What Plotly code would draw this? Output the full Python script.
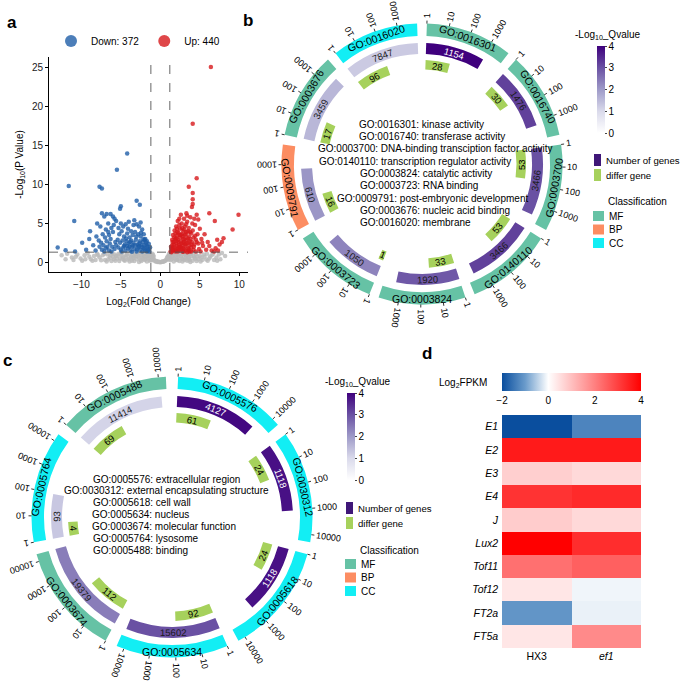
import math
import plotly.graph_objects as go

W, H = 685, 681
FONT = "Liberation Sans, Arial, sans-serif"

# ---------------- panel a : volcano ----------------
down_count = 372
up_count = 440
fc_cut = 1.2
p_cut = 1.3

down_pts = [(-11.6, 9.8), (-5.5, 11.9), (-4.2, 14.0), (-7.7, 9.7), (-7.4, 9.5), (-3.0, 7.9), (-2.6, 7.4),
            (-5.0, 7.2), (-5.1, 6.9), (-10.9, 5.3), (-13.0, 1.9), (-12.0, 1.55), (-10.8, 1.4), (-9.9, 2.5),
            (-9.4, 1.6), (-9.0, 3.0), (-8.9, 4.0), (-8.5, 2.2), (-8.2, 1.5),
            (-7.4, 6.3), (-6.8, 6.2), (-6.3, 6.2), (-6.0, 5.9), (-7.1, 5.9), (-5.8, 5.6), (-5.6, 5.3),
            (-6.6, 5.0), (-7.6, 4.6), (-8.0, 5.0), (-6.9, 4.2), (-6.2, 4.4), (-5.9, 4.8), (-7.3, 3.6),
            (-7.0, 3.2), (-6.5, 3.5), (-6.0, 3.9), (-7.8, 2.8), (-7.5, 2.5), (-7.2, 2.2), (-6.8, 2.7),
            (-6.4, 2.4), (-6.1, 2.0), (-6.9, 1.8), (-7.4, 1.6), (-6.5, 1.5), (-5.8, 1.7), (-5.7, 2.6),
            (-6.3, 3.0), (-7.1, 1.4), (-6.7, 2.0), (-8.1, 3.3),
            (-5.0, 5.0), (-4.7, 4.6), (-4.4, 4.9), (-4.1, 4.3), (-3.4, 4.8), (-3.0, 4.9), (-2.7, 4.6),
            (-2.3, 4.2), (-3.7, 4.0), (-4.9, 4.0), (-5.2, 3.6), (-4.6, 3.3), (-4.2, 3.7), (-3.9, 3.2),
            (-3.5, 3.5), (-3.2, 3.9), (-2.8, 3.6), (-2.5, 3.3), (-2.1, 3.6), (-1.9, 3.0), (-5.4, 2.9),
            (-5.1, 2.5), (-4.8, 2.8), (-4.5, 2.3), (-4.3, 2.7), (-4.0, 2.4), (-3.7, 2.8), (-3.4, 2.5),
            (-3.1, 2.9), (-2.9, 2.3), (-2.6, 2.7), (-2.4, 2.2), (-2.2, 2.6), (-2.0, 2.2), (-1.8, 2.5),
            (-1.6, 2.0), (-1.5, 1.7), (-5.3, 1.9), (-5.0, 1.6), (-4.7, 1.9), (-4.4, 1.5), (-4.1, 1.8),
            (-3.8, 1.5), (-3.6, 2.0), (-3.3, 1.7), (-3.0, 1.4), (-2.8, 1.9), (-2.5, 1.6), (-2.3, 1.4),
            (-2.1, 1.8), (-1.9, 1.5), (-1.7, 1.4), (-1.4, 1.4), (-1.3, 1.9), (-3.5, 2.2), (-2.7, 2.1),
            (-4.6, 2.1), (-3.9, 2.0), (-2.0, 2.9), (-1.7, 2.7),
            (-4.9, 1.4), (-4.2, 2.1), (-3.6, 1.35), (-3.2, 2.2), (-2.95, 1.65), (-2.65, 2.45), (-2.35, 1.95),
            (-2.15, 2.95), (-1.95, 1.75), (-1.75, 2.2), (-1.55, 1.5), (-1.45, 2.35), (-3.85, 2.6),
            (-4.35, 3.05), (-3.05, 3.3), (-2.45, 3.8), (-5.6, 2.2), (-6.2, 1.4), (-7.7, 2.0), (-6.6, 3.9),
            (-5.3, 4.4), (-4.0, 5.2), (-3.3, 5.4), (-2.5, 5.1)]

up_pts = [(6.4, 25.1), (4.1, 17.8), (4.6, 10.8), (3.6, 9.7), (4.1, 8.9), (4.1, 8.1), (4.1, 7.5), (4.0, 7.1),
          (9.9, 6.1), (6.2, 6.3), (6.9, 5.3), (9.15, 4.2), (8.0, 3.1), (7.2, 2.9), (6.0, 2.6), (5.4, 2.1),
          (5.2, 3.0), (5.0, 4.3), (4.8, 5.5), (5.8, 1.6), (6.5, 1.5), (7.0, 1.8), (7.5, 2.3), (7.8, 2.6),
          (6.8, 1.4), (4.6, 6.1), (3.3, 6.3), (2.6, 6.1), (3.0, 5.6),
          (1.3, 1.4), (1.4, 1.8), (1.5, 2.2), (1.6, 1.5), (1.7, 2.6), (1.8, 1.9), (1.9, 3.0), (2.0, 1.5),
          (2.0, 2.4), (2.1, 3.4), (2.2, 1.8), (2.2, 2.9), (2.3, 3.8), (2.4, 1.5), (2.4, 2.3), (2.5, 3.2),
          (2.5, 4.3), (2.6, 1.9), (2.6, 2.7), (2.7, 3.6), (2.7, 5.0), (2.8, 1.4), (2.8, 2.2), (2.9, 3.0),
          (2.9, 4.0), (3.0, 1.7), (3.0, 2.6), (3.1, 3.5), (3.1, 4.6), (3.2, 1.5), (3.2, 2.1), (3.3, 2.9),
          (3.3, 3.9), (3.4, 5.2), (3.5, 1.8), (3.5, 2.5), (3.6, 3.3), (3.6, 4.4), (3.7, 1.4), (3.7, 2.2),
          (3.8, 3.0), (3.8, 5.8), (3.9, 1.9), (3.9, 3.7), (4.0, 2.6), (4.1, 4.1), (4.2, 1.6), (4.2, 3.2),
          (4.3, 2.3), (4.4, 4.8), (4.5, 1.4), (4.5, 2.9), (1.5, 2.9), (1.6, 3.5), (1.8, 4.1), (2.0, 4.6),
          (2.2, 5.3), (2.4, 5.6), (1.4, 1.3), (1.9, 1.4), (2.3, 1.6), (2.7, 1.7), (3.4, 1.3), (3.9, 1.4),
          (2.1, 2.1), (2.5, 2.0), (2.9, 2.5), (3.3, 2.4), (3.7, 2.7), (1.7, 2.3), (2.3, 2.6), (2.8, 3.3),
          (3.2, 3.6), (1.6, 1.9), (2.0, 3.1), (2.6, 3.5), (3.0, 4.2), (3.5, 4.0), (2.4, 4.8), (1.9, 3.7),
          (2.1, 4.3), (3.4, 6.0), (4.3, 5.6), (4.7, 3.6), (4.8, 2.4), (4.9, 1.7), (5.1, 1.4),
          (1.35, 2.0), (1.55, 2.6), (1.75, 3.2), (1.85, 1.6), (2.05, 2.7), (2.15, 3.9), (2.35, 2.0),
          (2.45, 3.5), (2.65, 2.4), (2.75, 4.4), (2.85, 1.8), (3.05, 3.0), (3.15, 2.3), (3.25, 4.9),
          (3.45, 3.1), (3.55, 1.5), (3.75, 3.9), (3.95, 2.3), (4.05, 5.0), (4.25, 2.0), (4.4, 3.4),
          (4.6, 2.6), (1.5, 1.6), (2.2, 1.4), (2.9, 1.35), (3.6, 1.7), (5.3, 2.5), (5.6, 3.6), (6.2, 2.1),
          (7.3, 1.5)]

ns_pts = [(-12.5, 0.9), (-11.8, 1.1), (-11.2, 0.6), (-10.5, 1.0), (-10.1, 0.5), (-9.6, 0.9), (-9.2, 1.2),
          (-8.8, 0.4), (-8.4, 0.8), (-8.0, 1.1), (-7.7, 0.6), (-7.3, 0.9), (-7.0, 0.3), (-6.7, 1.0),
          (-6.4, 0.6), (-6.1, 1.2), (-5.9, 0.4), (-5.6, 0.8), (-5.3, 1.1), (-5.1, 0.5), (-4.9, 0.9),
          (-4.6, 0.3), (-4.4, 0.7), (-4.2, 1.1), (-4.0, 0.5), (-3.8, 0.9), (-3.6, 0.2), (-3.4, 0.6),
          (-3.2, 1.0), (-3.0, 0.4), (-2.8, 0.8), (-2.6, 1.2), (-2.5, 0.3), (-2.3, 0.7), (-2.1, 1.0),
          (-1.9, 0.4), (-1.8, 0.8), (-1.6, 1.1), (-1.5, 0.5), (-1.3, 0.9), (-1.2, 0.3), (-1.1, 0.7),
          (-1.0, 1.1), (-0.9, 0.5), (-0.8, 0.3), (-0.7, 0.2), (-0.6, 0.1), (-0.5, 0.15), (-0.4, 0.05),
          (-0.3, 0.1), (-0.2, 0.05), (-0.1, 0.02), (0.0, 0.0), (0.1, 0.03), (0.2, 0.06), (0.3, 0.1),
          (0.4, 0.08), (0.5, 0.15), (0.6, 0.2), (0.7, 0.25), (0.8, 0.35), (0.9, 0.5), (1.0, 0.8),
          (1.1, 1.1), (1.2, 0.6), (1.3, 1.0), (1.4, 0.4), (1.5, 0.8), (1.7, 1.2), (1.8, 0.5), (2.0, 0.9),
          (2.2, 0.3), (2.3, 0.7), (2.5, 1.1), (2.7, 0.5), (2.9, 0.9), (3.1, 0.3), (3.3, 0.7), (3.5, 1.1),
          (3.7, 0.4), (3.9, 0.8), (4.1, 0.2), (4.3, 0.6), (4.5, 1.0), (4.8, 0.4), (5.0, 0.8), (5.3, 0.3),
          (5.6, 0.7), (5.9, 1.1), (6.2, 0.5), (6.5, 0.9), (6.8, 0.3), (7.1, 0.6), (7.4, 1.0), (7.8, 1.2),
          (-8.6, 0.2), (-6.8, 0.1), (-5.2, 0.15), (-3.9, 0.1), (-2.7, 0.05), (-1.7, 0.1), (1.7, 0.1),
          (2.8, 0.1), (3.8, 0.05), (5.1, 0.1), (-9.9, 0.2), (-4.8, 1.25), (-3.5, 1.25), (-2.2, 1.25),
          (2.1, 1.25), (3.0, 1.25), (4.0, 1.25), (-0.9, 0.9), (-1.0, 0.6), (0.95, 0.7), (1.05, 0.4),
          (-7.5, 0.25), (-6.2, 0.15), (-4.5, 0.2), (-3.3, 0.15), (-2.4, 0.15), (2.4, 0.15), (3.4, 0.2),
          (4.6, 0.15), (6.0, 0.2), (-11.0, 0.3), (7.2, 0.2), (-5.7, 0.2),
          (-9.0, 0.7), (-8.2, 0.3), (-7.9, 0.9), (-7.1, 1.1), (-6.6, 0.4), (-6.3, 0.9), (-5.8, 1.0),
          (-5.5, 0.5), (-5.0, 1.15), (-4.7, 0.6), (-4.3, 0.95), (-4.1, 0.35), (-3.7, 0.7), (-3.5, 0.45),
          (-3.1, 0.75), (-2.9, 1.1), (-2.7, 0.6), (-2.4, 0.9), (-2.2, 0.5), (-2.0, 0.75), (-1.85, 1.15),
          (-1.65, 0.6), (-1.45, 0.85), (-1.35, 0.2), (-1.15, 1.0), (1.15, 0.85), (1.25, 0.25), (1.45, 1.15),
          (1.6, 0.6), (1.9, 1.0), (2.1, 0.5), (2.35, 1.0), (2.6, 0.75), (2.85, 0.4), (3.05, 1.05),
          (3.2, 0.55), (3.45, 0.9), (3.65, 0.25), (3.85, 1.1), (4.2, 0.85), (4.4, 0.45), (4.7, 0.75),
          (5.2, 0.6), (5.5, 1.0), (5.8, 0.35), (6.3, 0.75), (6.7, 1.1), (-6.0, 0.7), (-5.4, 0.85),
          (-4.8, 0.45), (-3.3, 0.85), (-2.0, 0.3), (2.0, 0.3), (3.6, 0.6), (-0.85, 0.7), (0.85, 0.6),
          (-1.05, 0.25), (-9.5, 0.4), (-10.7, 0.7), (-12.0, 0.4), (8.2, 0.8), (7.6, 0.4)]

# ---------------- panel b : GO circle ----------------
b_terms = ["GO:0016301", "GO:0016740", "GO:0003700", "GO:0140110", "GO:0003824",
           "GO:0003723", "GO:0009791", "GO:0003676", "GO:0016020"]
b_desc = ["kinase activity", "transferase activity", "DNA-binding transciption factor activity",
          "transcription regulator activity", "catalytic activity", "RNA binding",
          "post-embryonic development", "nucleic acid binding", "membrane"]
b_class = ["MF", "MF", "MF", "MF", "MF", "MF", "BP", "MF", "CC"]
b_genes = [1154, 1476, 3466, 3466, 1920, 1050, 610, 3459, 7847]
b_diff = [28, 30, 53, 53, 33, 1, 16, 17, 96]
b_q = [4.0, 3.2, 3.0, 3.2, 2.9, 2.3, 2.05, 1.55, 1.25]
b_ticks = [1, 10, 100, 1000]

# ---------------- panel c : GO circle ----------------
c_terms = ["GO:0005576", "GO:0030312", "GO:0005618", "GO:0005634", "GO:0003674", "GO:0005764", "GO:0005488"]
c_desc = ["extracellular region", "external encapsulating structure", "cell wall", "nucleus",
          "molecular function", "lysosome", "binding"]
c_class = ["CC", "CC", "CC", "CC", "MF", "CC", "MF"]
c_genes = [4127, 1118, 1118, 15602, 19379, 93, 11414]
c_diff = [61, 24, 24, 92, 112, 4, 69]
c_q = [3.9, 3.8, 3.8, 3.0, 2.4, 1.3, 1.1]
c_ticks = [1, 10, 100, 1000, 10000]

# ---------------- panel d : heatmap ----------------
d_genes = ["E1", "E2", "E3", "E4", "J", "Lux2", "Tof11", "Tof12", "FT2a", "FT5a"]
d_samples = ["HX3", "ef1"]
d_hx3 = [-2.0, 3.6, 0.75, 3.2, 0.8, 4.0, 2.25, 0.4, -1.08, 0.4]
d_ef1 = [-1.3, 3.6, 0.6, 3.35, 0.6, 3.3, 2.5, -0.1, -0.14, 1.85]

# ---------------- styles ----------------
CLASS_COLORS = {"MF": "#66C2A5", "BP": "#FC8D62", "CC": "#12EEF4"}
GREEN = "#A6D15C"
PURPLES = [[0, "#FFFFFF"], [0.25, "#DADAEB"], [0.5, "#9E9AC8"], [0.75, "#6A51A3"], [1, "#3F007D"]]
HEAT = [[0, "#0A4E9E"], [1 / 6, "#6A9BCB"], [1 / 3, "#FFFFFF"], [2 / 3, "#FF8080"], [1, "#FF0000"]]

fig = go.Figure()
annotations = []
shapes = []


def paper(px, py):
    return px / W, 1 - py / H


def ang_norm(a):
    return (a + 180) % 360 - 180


def tangent(theta):
    t = theta % 360
    return ang_norm(t - 180 if 90 < t < 270 else t)


def add_text(px, py, text, size=10, angle=0, color="black", xanchor="center", bold=False):
    x, y = paper(px, py)
    if bold:
        text = "<b>" + text + "</b>"
    annotations.append(dict(x=x, y=y, xref="paper", yref="paper", text=text, showarrow=False,
                            textangle=angle, xanchor=xanchor, yanchor="middle",
                            font=dict(size=size, color=color, family=FONT)))


# ---------- panel a traces ----------
for pts, name, color, show in [(ns_pts, "NS", "#B9B9B9", False),
                               (down_pts, f"Down: {down_count}", "#1F5EA8", True),
                               (up_pts, f"Up: {up_count}", "#D7191C", True)]:
    fig.add_trace(go.Scatter(x=[p[0] for p in pts], y=[p[1] for p in pts], mode="markers", name=name,
                             showlegend=show, xaxis="x", yaxis="y",
                             marker=dict(size=4.5, color=color, opacity=0.8, line=dict(width=0))))

for xv in (-fc_cut, fc_cut):
    shapes.append(dict(type="line", xref="x", yref="y domain", x0=xv, x1=xv, y0=0, y1=1,
                       line=dict(color="#555555", width=0.9, dash="dash")))
shapes.append(dict(type="line", xref="x domain", yref="y", x0=0, x1=1, y0=p_cut, y1=p_cut,
                   line=dict(color="#555555", width=0.9, dash="dash")))

# ---------- circular GO panels ----------
R_DOM = 150


def circle_panel(pname, cx, cy, terms, desc, cls, genes, diff, q, ticks, gap, first,
                 line_dx, line_y0, line_step, cbar_x, cbar_y, leg_x, leg_y):
    n = len(terms)
    step = 360 / n
    w = step - gap
    starts = [first + i * step for i in range(n)]
    L = math.log10(max(genes) + 1)
    gfrac = [math.log10(v + 1) / L for v in genes]
    dfrac = [math.log10(v + 1) / L for v in diff]

    fig.add_trace(go.Barpolar(subplot=pname, r=[12.5] * n, base=[128] * n,
                              theta=[s + w / 2 for s in starts], width=[w] * n,
                              marker=dict(color=[CLASS_COLORS[c] for c in cls], line=dict(width=0)),
                              showlegend=False, hoverinfo="skip"))
    fig.add_trace(go.Barpolar(subplot=pname, r=[11] * n, base=[110] * n,
                              theta=[s + f * w / 2 for s, f in zip(starts, gfrac)],
                              width=[f * w for f in gfrac],
                              marker=dict(color=q, colorscale=PURPLES, cmin=0, cmax=4, showscale=True,
                                          line=dict(width=0),
                                          colorbar=dict(x=cbar_x / W, xanchor="left", y=1 - cbar_y / H,
                                                        yanchor="top", len=87, lenmode="pixels", thickness=8,
                                                        outlinewidth=0, ticks="outside", ticklen=2,
                                                        tickvals=[0, 1, 2, 3, 4], xpad=0, ypad=0,
                                                        tickfont=dict(size=10, family=FONT))),
                              showlegend=False, hoverinfo="skip"))
    fig.add_trace(go.Barpolar(subplot=pname, r=[9.5] * n, base=[94.5] * n,
                              theta=[s + f * w / 2 for s, f in zip(starts, dfrac)],
                              width=[f * w for f in dfrac],
                              marker=dict(color=GREEN, line=dict(width=0)),
                              showlegend=False, hoverinfo="skip"))
    tr, tt = [], []
    for s in starts:
        for t in ticks:
            th = s + math.log10(t) / L * w
            tr += [140.5, 143.5, None]
            tt += [th, th, None]
            lab = str(t)
            est = len(lab) * 0.556 * 9
            rr = 145.5 + est / 2
            px = cx + rr * math.sin(math.radians(th))
            py = cy - rr * math.cos(math.radians(th))
            add_text(px, py, lab, size=9, angle=ang_norm(th - 90))
    fig.add_trace(go.Scatterpolar(subplot=pname, r=tr, theta=tt, mode="lines",
                                  line=dict(color="black", width=0.8), showlegend=False, hoverinfo="skip"))
    for i in range(n):
        th = starts[i] + w / 2
        add_text(cx + 134.5 * math.sin(math.radians(th)), cy - 134.5 * math.cos(math.radians(th)),
                 terms[i], size=10.5, angle=tangent(th))
        th = starts[i] + gfrac[i] * w / 2
        col = "white" if q[i] >= 3.5 else "#1a1a1a"
        add_text(cx + 115.5 * math.sin(math.radians(th)), cy - 115.5 * math.cos(math.radians(th)),
                 str(genes[i]), size=9.5, angle=tangent(th), color=col)
        th = starts[i] + dfrac[i] * w / 2
        add_text(cx + 99 * math.sin(math.radians(th)), cy - 99 * math.cos(math.radians(th)),
                 str(diff[i]), size=9.5, angle=tangent(th))
    for i in range(n):
        add_text(cx + line_dx[i], cy + line_y0 + i * line_step, f"{terms[i]}: {desc[i]}",
                 size=10, xanchor="left")
    add_text(cbar_x - 24, cbar_y - 11, "-Log<sub>10</sub>_Qvalue", size=10, xanchor="left")
    gx, gy = leg_x, leg_y
    shapes.append(dict(type="rect", xref="paper", yref="paper",
                       x0=(gx - 4) / W, x1=(gx + 3) / W, y0=1 - (gy + 6) / H, y1=1 - (gy - 6) / H,
                       fillcolor="#3F1778", line=dict(width=0)))
    add_text(gx + 6, gy, "Number of genes", size=9.6, xanchor="left")
    shapes.append(dict(type="rect", xref="paper", yref="paper",
                       x0=(gx - 4) / W, x1=(gx + 3) / W, y0=1 - (gy + 21) / H, y1=1 - (gy + 9) / H,
                       fillcolor=GREEN, line=dict(width=0)))
    add_text(gx + 6, gy + 15, "differ gene", size=9.6, xanchor="left")
    add_text(gx + 8, gy + 42, "Classification", size=10, xanchor="left")
    for k, c in enumerate(["MF", "BP", "CC"]):
        yy = gy + 56 + k * 13.5
        shapes.append(dict(type="rect", xref="paper", yref="paper",
                           x0=(gx - 5) / W, x1=(gx + 6) / W, y0=1 - (yy + 5) / H, y1=1 - (yy - 5) / H,
                           fillcolor=CLASS_COLORS[c], line=dict(width=0)))
        add_text(gx + 9, yy, c, size=10, xanchor="left")

    fig.update_layout(**{pname: dict(
        domain=dict(x=[(cx - R_DOM) / W, (cx + R_DOM) / W], y=[1 - (cy + R_DOM) / H, 1 - (cy - R_DOM) / H]),
        radialaxis=dict(range=[0, R_DOM], visible=False),
        angularaxis=dict(direction="clockwise", rotation=90, visible=False),
        bgcolor="rgba(0,0,0,0)")})


circle_panel("polar", 422, 164, b_terms, b_desc, b_class, b_genes, b_diff, b_q, b_ticks, 4, 2,
             [-65, -65, -106, -105, -64, -64, -87, -64, -64], -39.7, 12.3, 597, 46, 598, 160)
circle_panel("polar2", 172, 517, c_terms, c_desc, c_class, c_genes, c_diff, c_q, c_ticks, 5, 2.5,
             [-81, -110, -81, -82, -82, -81, -81], -38, 11.95, 347, 393, 350, 508)

# ---------- panel d heatmap ----------
fig.add_trace(go.Heatmap(z=[[a, b] for a, b in zip(d_hx3, d_ef1)],
                         x=["HX3", "<i>ef1</i>"], y=[f"<i>{g}</i>" for g in d_genes],
                         colorscale=HEAT, zmin=-2, zmax=4, xaxis="x2", yaxis="y2", hoverinfo="skip",
                         colorbar=dict(orientation="h", x=502 / W, xanchor="left", y=1 - 373 / H, yanchor="top",
                                       len=139, lenmode="pixels", thickness=18, outlinewidth=0,
                                       tickvals=[-2, 0, 2, 4], ticks="", xpad=0, ypad=0,
                                       tickfont=dict(size=10, family=FONT))))
add_text(437, 383, "Log<sub>2</sub>FPKM", size=10, xanchor="left")

for lab, px, py in [("a", 12, 22), ("b", 248, 20), ("c", 7, 360), ("d", 427, 353)]:
    add_text(px, py, lab, size=17, bold=True)

axis_common = dict(showgrid=False, zeroline=False, showline=True, linecolor="black", linewidth=1,
                   ticks="outside", ticklen=3, tickcolor="black", tickfont=dict(size=10, color="#222"))

fig.update_layout(
    width=W, height=H, margin=dict(l=0, r=0, t=0, b=0),
    paper_bgcolor="white", plot_bgcolor="white",
    font=dict(family=FONT, size=10, color="black"),
    xaxis=dict(domain=[49 / W, 248 / W], range=[-14.1, 11.1], anchor="y", tickvals=[-10, -5, 0, 5, 10],
               title=dict(text="Log<sub>2</sub>(Fold Change)", font=dict(size=10), standoff=8), **axis_common),
    yaxis=dict(domain=[1 - 272 / H, 1 - 57 / H], range=[-1.25, 26.4], anchor="x", tickvals=[0, 5, 10, 15, 20, 25],
               title=dict(text="-Log<sub>10</sub>(P Value)", font=dict(size=10), standoff=6), **axis_common),
    xaxis2=dict(domain=[502 / W, 641 / W], anchor="y2", showgrid=False, zeroline=False, ticks="",
                tickfont=dict(size=10.5)),
    yaxis2=dict(domain=[1 - 648 / H, 1 - 415 / H], anchor="x2", autorange="reversed", showgrid=False,
                zeroline=False, ticks="", ticksuffix=" ", tickfont=dict(size=10.5)),
    legend=dict(orientation="h", x=51 / W, y=1 - 41 / H, xanchor="left", yanchor="middle",
                itemsizing="constant", font=dict(size=10), bgcolor="rgba(0,0,0,0)"),
    annotations=annotations, shapes=shapes,
)

fig.write_html("out.html", config={"displayModeBar": False},
               post_script="document.body.style.margin='0px';")
